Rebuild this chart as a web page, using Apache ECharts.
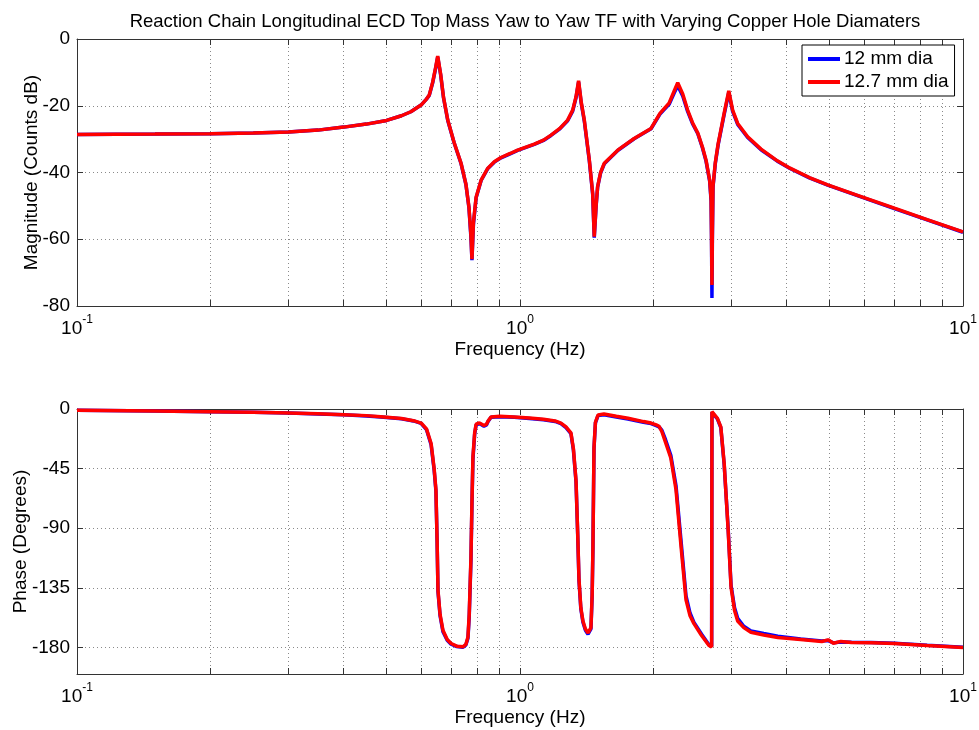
<!DOCTYPE html>
<html>
<head>
<meta charset="utf-8">
<script src="https://cdn.jsdelivr.net/npm/echarts@6/dist/echarts.min.js"></script>
<style>html,body{margin:0;padding:0;background:#fff}#c{width:979px;height:730px}</style>
</head>
<body>
<div id="c"></div>
<script>
const titleText = 'Reaction Chain Longitudinal ECD Top Mass Yaw to Yaw TF with Varying Copper Hole Diamaters';
const seriesNames = ['12 mm dia', '12.7 mm dia'];
const xTickValues = [0.1,0.2,0.3,0.4,0.5,0.6,0.7,0.8,0.9,1,2,3,4,5,6,7,8,9,10];
const xLabelValues = [0.1, 1, 10];
const phaseTickValues = [-180, -135, -90, -45, 0];

const magFreq = [0.1,0.15,0.2,0.25,0.3,0.35,0.4,0.45,0.5,0.54,0.567,0.598,0.615,0.624,0.635,0.645,0.652,0.662,0.672,0.687,0.71,0.736,0.755,0.767,0.775,0.779,0.785,0.796,0.817,0.845,0.875,0.906,0.95,0.988,1.077,1.13,1.175,1.23,1.281,1.315,1.338,1.356,1.375,1.397,1.434,1.459,1.471,1.485,1.497,1.52,1.55,1.662,1.81,1.976,2.07,2.17,2.23,2.27,2.33,2.39,2.45,2.52,2.58,2.63,2.68,2.7,2.706,2.712,2.718,2.727,2.76,2.8,2.89,2.96,3.02,3.1,3.265,3.5,3.81,4.07,4.5,4.95,5.8,7.0,8.3,10];
const magRed = [-28.6,-28.5,-28.4,-28.2,-27.9,-27.3,-26.4,-25.5,-24.4,-23.0,-21.8,-19.8,-18.0,-16.8,-13.0,-8.5,-5.1,-10.5,-17.5,-24.3,-31.0,-37.2,-43.5,-50.4,-59,-66,-55,-47.4,-42.3,-38.8,-36.8,-35.5,-34.3,-33.3,-31.5,-30.3,-28.8,-26.8,-24.3,-21.3,-17.3,-12.5,-19,-24.3,-36.3,-46.2,-59.2,-50,-44.2,-40,-37.2,-33.3,-29.8,-26.8,-22.3,-19.2,-15.5,-13.1,-16.5,-21.3,-25,-28.2,-32.3,-36.3,-42.3,-48,-58,-73.7,-58,-44,-37,-31.5,-22.2,-15.5,-21.3,-25.3,-29.3,-33.0,-36.5,-38.7,-41.5,-43.7,-46.9,-50.7,-54.1,-57.8];
const magBlue = [-28.6,-28.5,-28.4,-28.2,-27.9,-27.3,-26.4,-25.5,-24.4,-23.0,-21.8,-19.8,-18.0,-16.9,-13.2,-8.8,-5.4,-10.7,-17.6,-24.4,-31.1,-37.3,-43.6,-50.6,-59.5,-66.3,-55.5,-47.6,-42.4,-38.9,-36.9,-35.6,-34.4,-33.4,-31.6,-30.4,-28.9,-26.9,-24.5,-21.6,-17.6,-12.9,-19.3,-24.6,-36.6,-46.5,-59.5,-50.3,-44.4,-40.2,-37.4,-33.4,-29.9,-26.9,-22.5,-19.6,-16.1,-14.0,-17.1,-21.7,-25.3,-28.4,-32.5,-36.6,-42.6,-48.5,-60,-77.6,-60,-44.4,-37.3,-31.8,-22.6,-16.0,-21.7,-25.6,-29.5,-33.2,-36.6,-38.8,-41.6,-43.8,-47.0,-50.8,-54.2,-57.9];

const phaseFreq = [0.1,0.15,0.2,0.25,0.3,0.35,0.4,0.45,0.485,0.54,0.575,0.598,0.615,0.63,0.64,0.646,0.65,0.653,0.66,0.67,0.685,0.699,0.72,0.744,0.755,0.763,0.768,0.775,0.779,0.783,0.79,0.796,0.81,0.829,0.84,0.847,0.86,0.9,0.97,1.05,1.13,1.2,1.237,1.27,1.303,1.32,1.338,1.35,1.359,1.372,1.387,1.405,1.424,1.438,1.446,1.455,1.461,1.469,1.48,1.5,1.547,1.65,1.753,1.9,1.976,2.03,2.06,2.09,2.13,2.19,2.25,2.31,2.37,2.42,2.47,2.57,2.67,2.708,2.712,2.74,2.79,2.84,2.89,2.95,2.995,3.05,3.1,3.2,3.32,3.55,3.82,4.3,4.8,4.96,5.1,5.3,5.6,6.2,7.0,8.3,10];
const phaseRed = [-1,-1.5,-2,-2.5,-3,-3.6,-4.3,-5.0,-5.8,-7.2,-8.8,-10.6,-15,-26,-45,-61,-100,-137,-155,-167,-174,-177,-179,-179.5,-177.5,-172,-155,-112,-70,-36,-18,-11.5,-10.5,-12.5,-11.5,-9,-6,-5.5,-6,-6.8,-7.8,-9,-10.6,-13.5,-18,-30,-54,-95,-129,-150,-160,-166,-169,-168,-165,-140,-104,-29,-10,-4.5,-3.8,-5.5,-7,-9.5,-10.6,-12,-13,-17,-25,-37,-61,-104,-144,-156,-162,-171,-178.5,-179.5,-2,-2.5,-7,-13.5,-41,-91,-134.5,-152,-160,-165,-168.5,-170.5,-172.5,-174,-175.5,-174.2,-176.8,-175.4,-176.2,-176.5,-177,-178.5,-180];
const phaseBlue = [-1,-1.5,-2,-2.5,-3,-3.7,-4.4,-5.2,-6.0,-7.4,-9.0,-10.8,-15.5,-27,-46,-62,-101,-138,-156,-168,-174.5,-177.5,-179.3,-179.8,-178,-173,-157,-114,-72,-38,-19,-12,-11,-13,-12,-9.5,-6.3,-5.8,-6.3,-7.1,-8.1,-9.4,-11,-14,-18.5,-31,-55,-96,-130,-151,-161,-167,-170,-169,-166,-141,-105,-30,-10.5,-5,-4.3,-6,-7.5,-10,-11,-12.5,-13.5,-16,-23,-35,-58,-100,-141,-154,-161,-170,-178,-179,-2.5,-3,-7.5,-14,-42,-90,-133,-150,-158,-164,-167.5,-169.5,-171.5,-173.5,-175,-174.8,-176.5,-175.8,-176,-176.2,-176.8,-178.3,-179.8];

const zip = (xs, ys) => xs.map((x, i) => [x, ys[i]]);

const FONT = "'Liberation Sans', Arial, Helvetica, sans-serif";
const AXIS_COLOR = '#333';
const GRID_LINE = { show: true, lineStyle: { color: '#8a8a8a', type: [1, 3], width: 1 } };

function xAxes(gridIndex) {
  return [
    {
      type: 'log', logBase: 10, gridIndex, min: 0.1, max: 10,
      name: 'Frequency (Hz)', nameLocation: 'middle', nameGap: 34, nameMoveOverlap: false,
      nameTextStyle: { fontFamily: FONT, fontSize: 19, color: '#000' },
      axisLine: { show: true, onZero: false, lineStyle: { color: AXIS_COLOR } },
      axisTick: { show: true, inside: true, length: 6, customValues: xTickValues, lineStyle: { color: AXIS_COLOR } },
      axisLabel: {
        show: true, margin: 8, customValues: xLabelValues,
        formatter: v => '{b|10}{s|' + Math.round(Math.log10(v)) + '}',
        rich: {
          b: { fontFamily: FONT, fontSize: 19, color: '#000', lineHeight: 24, verticalAlign: 'bottom' },
          s: { fontFamily: FONT, fontSize: 12, color: '#000', lineHeight: 24, verticalAlign: 'top' }
        }
      },
      splitLine: GRID_LINE,
      minorTick: { show: false }
    },
    {
      type: 'log', logBase: 10, gridIndex, min: 0.1, max: 10, position: 'top',
      axisLine: { show: true, onZero: false, lineStyle: { color: AXIS_COLOR } },
      axisTick: { show: true, inside: true, length: 6, customValues: xTickValues, lineStyle: { color: AXIS_COLOR } },
      axisLabel: { show: false },
      splitLine: { show: false }
    }
  ];
}

function yAxes(gridIndex, cfg) {
  const base = { type: 'value', gridIndex, min: cfg.min, max: cfg.max };
  const left = Object.assign({}, base, {
    name: cfg.name, nameLocation: 'middle', nameGap: cfg.nameGap, nameMoveOverlap: false,
    nameTextStyle: { fontFamily: FONT, fontSize: 19, color: '#000' },
    axisLine: { show: true, onZero: false, lineStyle: { color: AXIS_COLOR } },
    axisTick: Object.assign({ show: true, inside: true, length: 6, lineStyle: { color: AXIS_COLOR } }, cfg.custom ? { customValues: cfg.custom } : {}),
    axisLabel: Object.assign({ show: true, margin: 7, fontFamily: FONT, fontSize: 19, color: '#000' }, cfg.custom ? { customValues: cfg.custom } : {}),
    splitLine: GRID_LINE
  });
  if (cfg.interval) left.interval = cfg.interval;
  const right = Object.assign({}, base, {
    position: 'right',
    axisLine: { show: true, onZero: false, lineStyle: { color: AXIS_COLOR } },
    axisTick: Object.assign({ show: true, inside: true, length: 6, lineStyle: { color: AXIS_COLOR } }, cfg.custom ? { customValues: cfg.custom } : {}),
    axisLabel: { show: false },
    splitLine: { show: false }
  });
  if (cfg.interval) right.interval = cfg.interval;
  return [left, right];
}

const chart = echarts.init(document.getElementById('c'), null, { renderer: 'canvas' });
const lineSeries = (name, data, color, xi, yi, w) => ({
  name, type: 'line', data, xAxisIndex: xi, yAxisIndex: yi,
  showSymbol: false, symbol: 'none', smooth: false, animation: false,
  lineStyle: { color, width: w }, itemStyle: { color },
  emphasis: { disabled: true }
});

chart.setOption({
  animation: false,
  backgroundColor: '#fff',
  title: {
    text: titleText, left: 520, top: 7, textAlign: 'center',
    textStyle: { fontFamily: FONT, fontSize: 18.5, fontWeight: 'normal', color: '#000' }
  },
  legend: {
    data: seriesNames, orient: 'vertical', left: 802, top: 45,
    backgroundColor: '#fff', borderColor: '#000', borderWidth: 1,
    padding: [3, 6, 3, 6], itemGap: 1, itemWidth: 32, itemHeight: 4, icon: 'rect',
    textStyle: { fontFamily: FONT, fontSize: 19, color: '#000', lineHeight: 22, padding: [0, 0, 0, -1] }
  },
  grid: [
    { left: 77, right: 16, top: 39, height: 267, containLabel: false, outerBoundsMode: 'none' },
    { left: 77, right: 16, top: 409, height: 265, containLabel: false, outerBoundsMode: 'none' }
  ],
  xAxis: [...xAxes(0), ...xAxes(1)],
  yAxis: [
    ...yAxes(0, { min: -80, max: 0, interval: 20, name: 'Magnitude (Counts dB)', nameGap: 36 }),
    ...yAxes(1, { min: -200, max: 0, custom: phaseTickValues, name: 'Phase (Degrees)', nameGap: 47 })
  ],
  series: [
    lineSeries(seriesNames[0], zip(magFreq, magBlue), '#0000ff', 0, 0, 3.5),
    lineSeries(seriesNames[1], zip(magFreq, magRed), '#ff0000', 0, 0, 3.5),
    lineSeries(seriesNames[0], zip(phaseFreq, phaseBlue), '#0000ff', 2, 2, 3.5),
    lineSeries(seriesNames[1], zip(phaseFreq, phaseRed), '#ff0000', 2, 2, 3.5)
  ]
});
</script>
</body>
</html>
